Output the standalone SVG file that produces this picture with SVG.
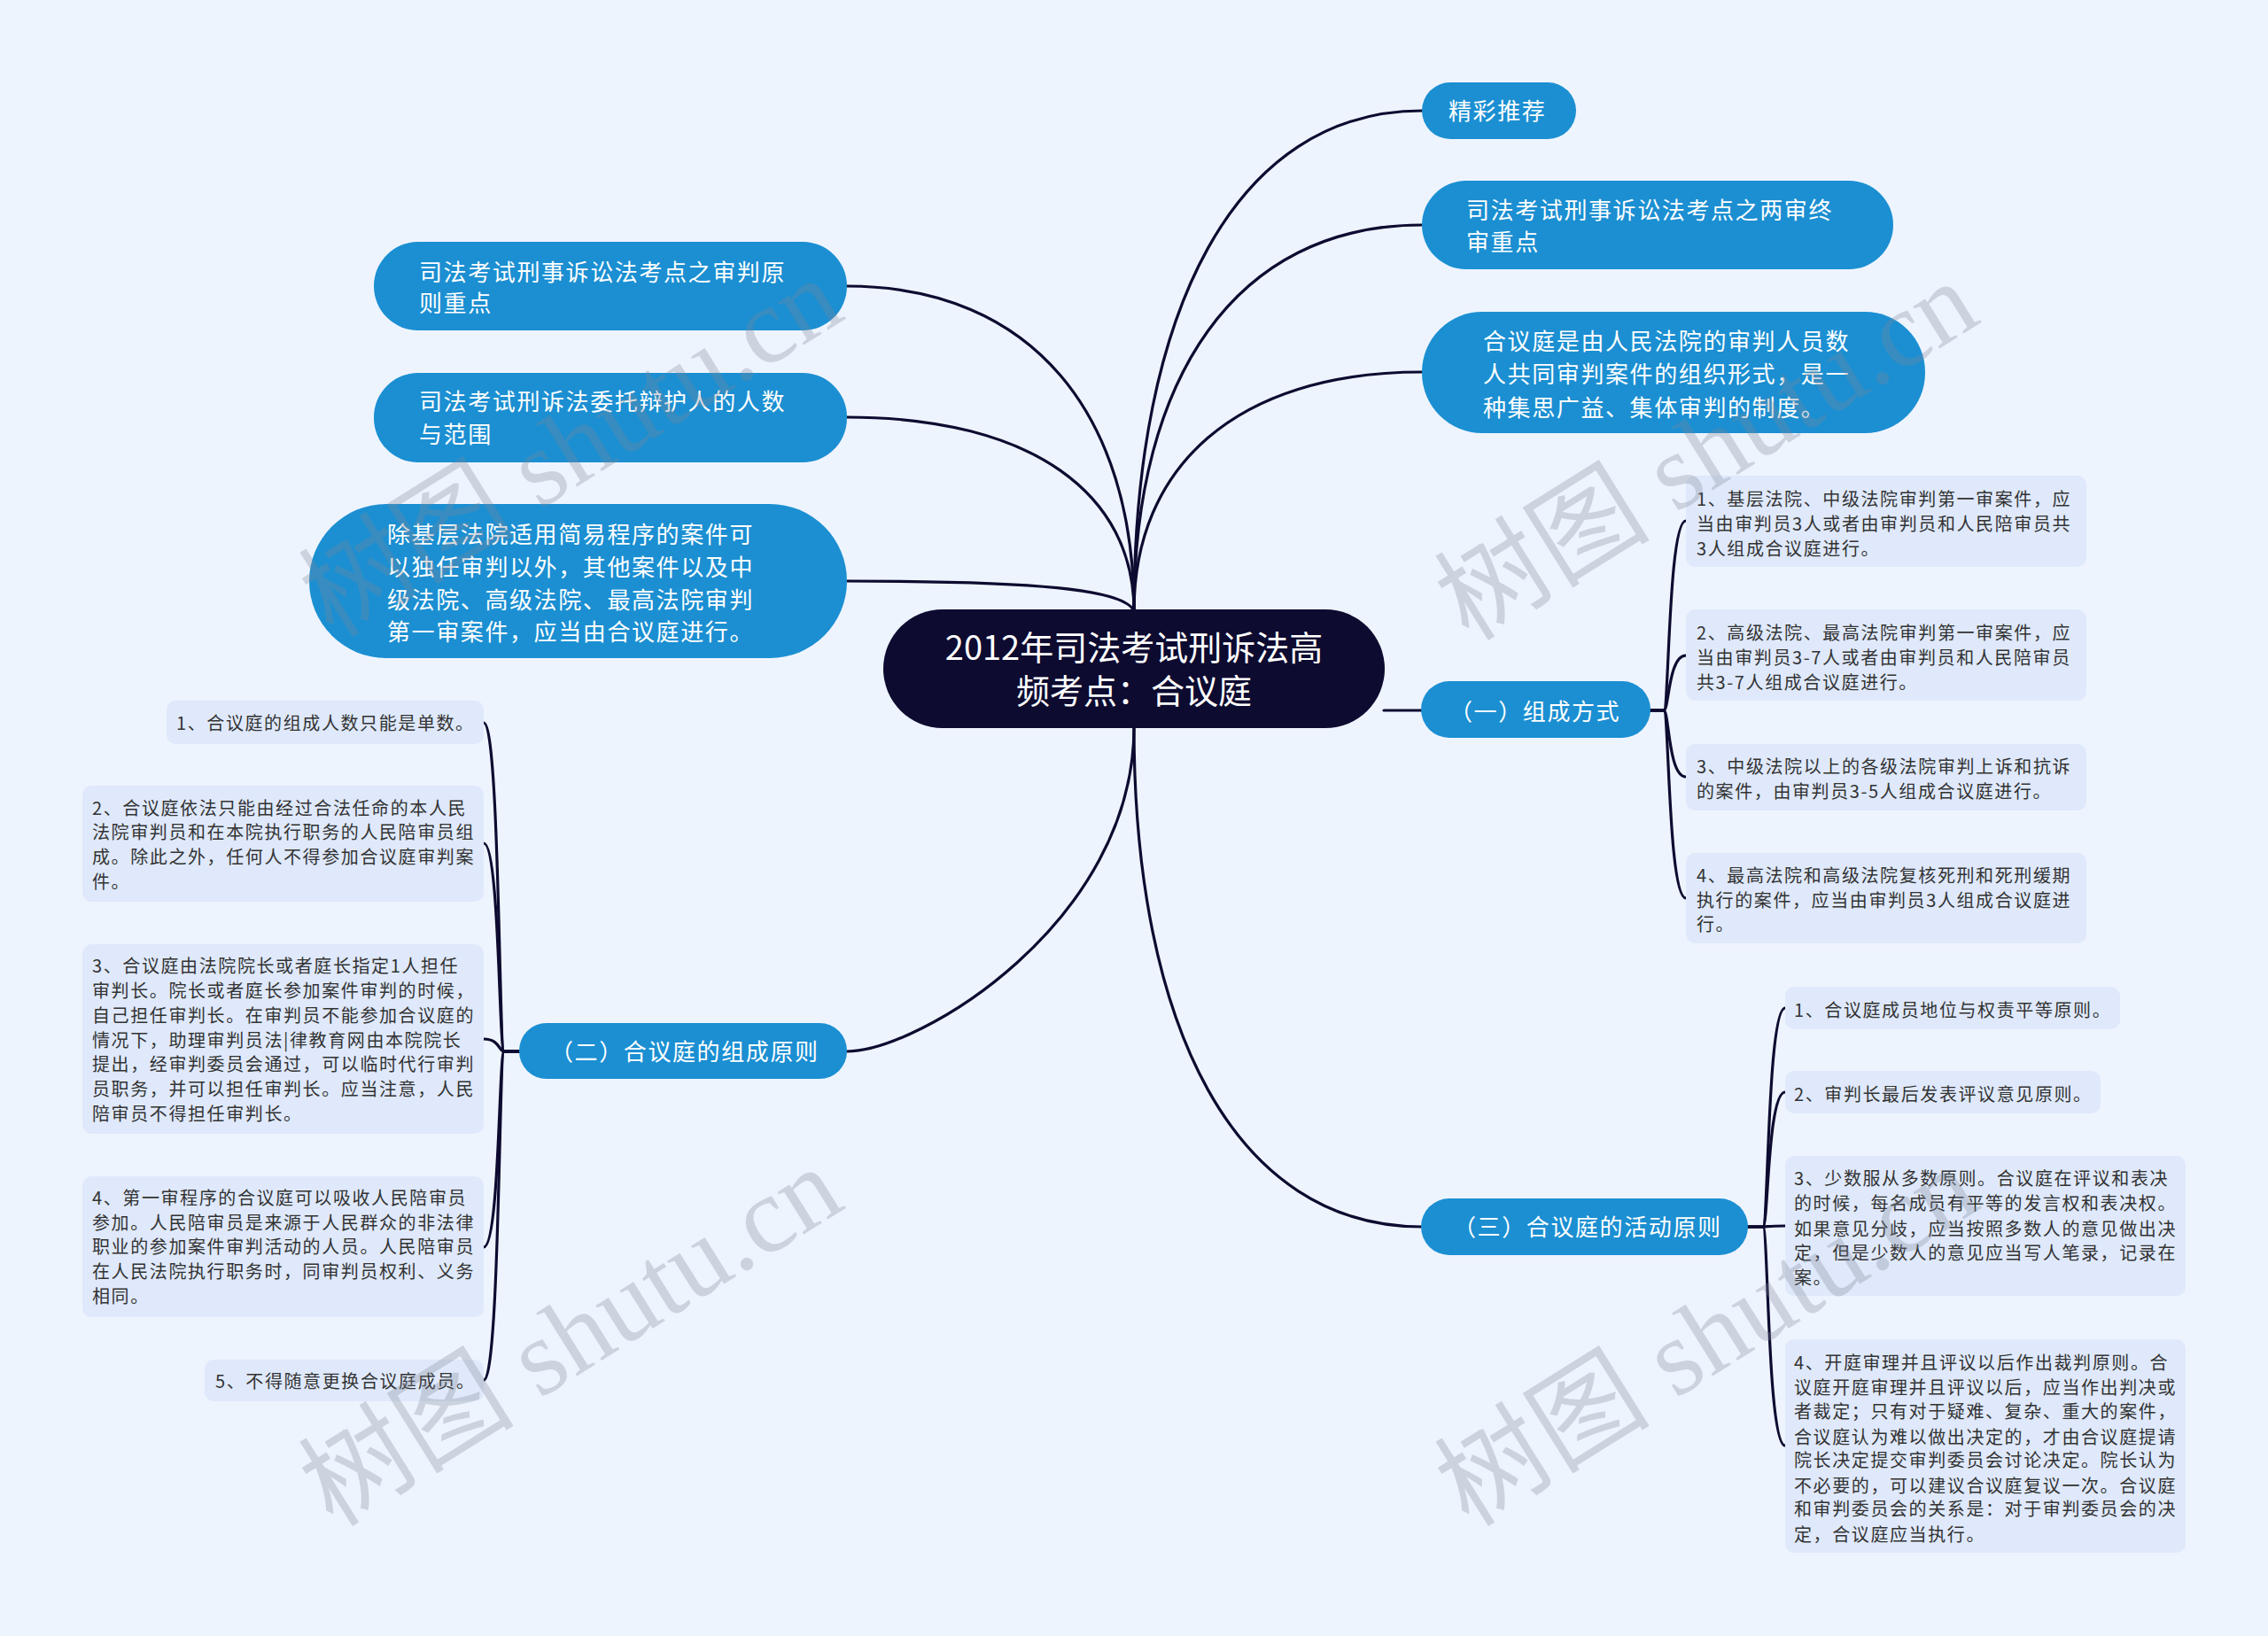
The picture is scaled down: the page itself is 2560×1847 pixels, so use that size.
<svg xmlns="http://www.w3.org/2000/svg" width="2560" height="1847" viewBox="0 0 2560 1847">
<style>
.bg{fill:#eef4fe}
.c{fill:none;stroke:#0d0b30;stroke-width:3.2;stroke-linecap:round}
.root{fill:#0d0b30}
.main{fill:#1b8fd2}
.leaf{fill:#dfe9fb}
.tr{font-family:"Noto Sans CJK SC","Noto Sans",sans-serif;font-size:38px;fill:#ffffff;text-anchor:middle}
.tm{font-family:"Noto Sans CJK SC","Noto Sans",sans-serif;font-size:26px;letter-spacing:1.6px;fill:#ffffff}
.tl{font-family:"Noto Sans CJK SC","Noto Sans",sans-serif;font-size:20px;letter-spacing:1.6px;fill:#333333}
.wm{font-family:"Liberation Serif","Noto Sans CJK SC",serif;font-size:122px;fill:#7f8796;opacity:0.3}
</style>
<rect class="bg" x="0" y="0" width="2560" height="1847"/>
<g id="connectors">
<path class="c" d="M1280 690 C1280 351 1394 125 1605 125"/>
<path class="c" d="M1280 690 C1280 428 1394 254 1605 254"/>
<path class="c" d="M1280 690 C1280 528 1394 420 1605 420"/>
<path class="c" d="M1562 802 L1605 802"/>
<path class="c" d="M1280 821 C1280 1160 1394 1385 1605 1385"/>
<path class="c" d="M1280 690 C1280 470 1167 323 956 323"/>
<path class="c" d="M1280 690 C1280 559 1167 471 956 471"/>
<path class="c" d="M1280 690 C1270 665 1167 656 956 656"/>
<path class="c" d="M1280 821 C1280 1041 1037 1187 956 1187"/>
<path class="c" d="M1863 802 L1878 802 C1884 802 1883 588 1903 588"/>
<path class="c" d="M1863 802 L1878 802 C1884 802 1883 740 1903 740"/>
<path class="c" d="M1863 802 L1878 802 C1884 802 1883 877 1903 877"/>
<path class="c" d="M1863 802 L1878 802 C1884 802 1883 1014 1903 1014"/>
<path class="c" d="M586 1187 L569 1187 C563 1187 564 816 546 816"/>
<path class="c" d="M586 1187 L569 1187 C563 1187 564 952 546 952"/>
<path class="c" d="M586 1187 L569 1187 C563 1187 564 1173 546 1173"/>
<path class="c" d="M586 1187 L569 1187 C563 1187 564 1408 546 1408"/>
<path class="c" d="M586 1187 L569 1187 C563 1187 564 1558 546 1558"/>
<path class="c" d="M1973 1385 L1990 1385 C1996 1385 1995 1138 2015 1138"/>
<path class="c" d="M1973 1385 L1990 1385 C1996 1385 1995 1233 2015 1233"/>
<path class="c" d="M1973 1385 L1990 1385 C1996 1385 1995 1384 2015 1384"/>
<path class="c" d="M1973 1385 L1990 1385 C1996 1385 1995 1632 2015 1632"/>
</g>
<g id="root">
<rect class="root" x="997" y="688" width="566" height="134" rx="67"/>
<text class="tr"><tspan x="1280" y="745">2012年司法考试刑诉法高</tspan><tspan x="1280" y="794">频考点：合议庭</tspan></text>
</g>
<g id="n-jingcai">
<rect class="main" x="1605" y="93" width="174" height="64" rx="32"/>
<text class="tm" x="1635" y="135">精彩推荐</text>
</g>
<g id="n-liangshen">
<rect class="main" x="1605" y="204" width="532" height="100" rx="50"/>
<text class="tm"><tspan x="1655" y="247">司法考试刑事诉讼法考点之两审终</tspan><tspan x="1655" y="283">审重点</tspan></text>
</g>
<g id="n-dingyi">
<rect class="main" x="1605" y="352" width="568" height="137" rx="68"/>
<text class="tm"><tspan x="1674" y="395">合议庭是由人民法院的审判人员数</tspan><tspan x="1674" y="432">人共同审判案件的组织形式，是一</tspan><tspan x="1674" y="470">种集思广益、集体审判的制度。</tspan></text>
</g>
<g id="n-shenpan">
<rect class="main" x="422" y="273" width="534" height="100" rx="50"/>
<text class="tm"><tspan x="473" y="317">司法考试刑事诉讼法考点之审判原</tspan><tspan x="473" y="352">则重点</tspan></text>
</g>
<g id="n-weituo">
<rect class="main" x="422" y="421" width="534" height="101" rx="50"/>
<text class="tm"><tspan x="473" y="463">司法考试刑诉法委托辩护人的人数</tspan><tspan x="473" y="500">与范围</tspan></text>
</g>
<g id="n-chujiceng">
<rect class="main" x="349" y="569" width="607" height="174" rx="87"/>
<text class="tm"><tspan x="437" y="613">除基层法院适用简易程序的案件可</tspan><tspan x="437" y="650">以独任审判以外，其他案件以及中</tspan><tspan x="437" y="687">级法院、高级法院、最高法院审判</tspan><tspan x="437" y="723">第一审案件，应当由合议庭进行。</tspan></text>
</g>
<g id="n-zucheng">
<rect class="main" x="1604" y="769" width="259" height="64" rx="32"/>
<text class="tm" x="1636" y="813">（一）组成方式</text>
</g>
<g id="n-yuanze">
<rect class="main" x="586" y="1155" width="370" height="63" rx="31"/>
<text class="tm" x="621" y="1197">（二）合议庭的组成原则</text>
</g>
<g id="n-huodong">
<rect class="main" x="1604" y="1353" width="369" height="64" rx="32"/>
<text class="tm" x="1640" y="1395">（三）合议庭的活动原则</text>
</g>
<g id="l1-1">
<rect class="leaf" x="1903" y="537" width="452" height="103" rx="10"/>
<text class="tl"><tspan x="1915" y="571">1、基层法院、中级法院审判第一审案件，应</tspan><tspan x="1915" y="599">当由审判员3人或者由审判员和人民陪审员共</tspan><tspan x="1915" y="627">3人组成合议庭进行。</tspan></text>
</g>
<g id="l1-2">
<rect class="leaf" x="1903" y="688" width="452" height="103" rx="10"/>
<text class="tl"><tspan x="1915" y="722">2、高级法院、最高法院审判第一审案件，应</tspan><tspan x="1915" y="750">当由审判员3-7人或者由审判员和人民陪审员</tspan><tspan x="1915" y="778">共3-7人组成合议庭进行。</tspan></text>
</g>
<g id="l1-3">
<rect class="leaf" x="1903" y="840" width="452" height="75" rx="10"/>
<text class="tl"><tspan x="1915" y="873">3、中级法院以上的各级法院审判上诉和抗诉</tspan><tspan x="1915" y="901">的案件，由审判员3-5人组成合议庭进行。</tspan></text>
</g>
<g id="l1-4">
<rect class="leaf" x="1903" y="963" width="452" height="102" rx="10"/>
<text class="tl"><tspan x="1915" y="996">4、最高法院和高级法院复核死刑和死刑缓期</tspan><tspan x="1915" y="1024">执行的案件，应当由审判员3人组成合议庭进</tspan><tspan x="1915" y="1051">行。</tspan></text>
</g>
<g id="l2-1">
<rect class="leaf" x="188" y="791" width="358" height="49" rx="10"/>
<text class="tl" x="199" y="824">1、合议庭的组成人数只能是单数。</text>
</g>
<g id="l2-2">
<rect class="leaf" x="93" y="887" width="453" height="131" rx="10"/>
<text class="tl"><tspan x="104" y="920">2、合议庭依法只能由经过合法任命的本人民</tspan><tspan x="104" y="947">法院审判员和在本院执行职务的人民陪审员组</tspan><tspan x="104" y="975">成。除此之外，任何人不得参加合议庭审判案</tspan><tspan x="104" y="1003">件。</tspan></text>
</g>
<g id="l2-3">
<rect class="leaf" x="93" y="1066" width="453" height="214" rx="10"/>
<text class="tl"><tspan x="104" y="1098">3、合议庭由法院院长或者庭长指定1人担任</tspan><tspan x="104" y="1126">审判长。院长或者庭长参加案件审判的时候，</tspan><tspan x="104" y="1154">自己担任审判长。在审判员不能参加合议庭的</tspan><tspan x="104" y="1182">情况下，助理审判员法|律教育网由本院院长</tspan><tspan x="104" y="1209">提出，经审判委员会通过，可以临时代行审判</tspan><tspan x="104" y="1237">员职务，并可以担任审判长。应当注意，人民</tspan><tspan x="104" y="1265">陪审员不得担任审判长。</tspan></text>
</g>
<g id="l2-4">
<rect class="leaf" x="93" y="1328" width="453" height="159" rx="10"/>
<text class="tl"><tspan x="104" y="1360">4、第一审程序的合议庭可以吸收人民陪审员</tspan><tspan x="104" y="1388">参加。人民陪审员是来源于人民群众的非法律</tspan><tspan x="104" y="1415">职业的参加案件审判活动的人员。人民陪审员</tspan><tspan x="104" y="1443">在人民法院执行职务时，同审判员权利、义务</tspan><tspan x="104" y="1471">相同。</tspan></text>
</g>
<g id="l2-5">
<rect class="leaf" x="231" y="1535" width="315" height="47" rx="10"/>
<text class="tl" x="243" y="1567">5、不得随意更换合议庭成员。</text>
</g>
<g id="l3-1">
<rect class="leaf" x="2015" y="1114" width="378" height="48" rx="10"/>
<text class="tl" x="2025" y="1148">1、合议庭成员地位与权责平等原则。</text>
</g>
<g id="l3-2">
<rect class="leaf" x="2015" y="1209" width="356" height="48" rx="10"/>
<text class="tl" x="2025" y="1243">2、审判长最后发表评议意见原则。</text>
</g>
<g id="l3-3">
<rect class="leaf" x="2015" y="1305" width="452" height="158" rx="10"/>
<text class="tl"><tspan x="2025" y="1338">3、少数服从多数原则。合议庭在评议和表决</tspan><tspan x="2025" y="1366">的时候，每名成员有平等的发言权和表决权。</tspan><tspan x="2025" y="1395">如果意见分歧，应当按照多数人的意见做出决</tspan><tspan x="2025" y="1422">定，但是少数人的意见应当写人笔录，记录在</tspan><tspan x="2025" y="1450">案。</tspan></text>
</g>
<g id="l3-4">
<rect class="leaf" x="2015" y="1512" width="452" height="241" rx="10"/>
<text class="tl"><tspan x="2025" y="1546">4、开庭审理并且评议以后作出裁判原则。合</tspan><tspan x="2025" y="1574">议庭开庭审理并且评议以后，应当作出判决或</tspan><tspan x="2025" y="1601">者裁定；只有对于疑难、复杂、重大的案件，</tspan><tspan x="2025" y="1630">合议庭认为难以做出决定的，才由合议庭提请</tspan><tspan x="2025" y="1656">院长决定提交审判委员会讨论决定。院长认为</tspan><tspan x="2025" y="1685">不必要的，可以建议合议庭复议一次。合议庭</tspan><tspan x="2025" y="1711">和审判委员会的关系是：对于审判委员会的决</tspan><tspan x="2025" y="1740">定，合议庭应当执行。</tspan></text>
</g>
<g id="watermarks">
<text class="wm" x="645" y="546" text-anchor="middle" transform="rotate(-32 645 506)">树图 shutu.cn</text>
<text class="wm" x="1927" y="550" text-anchor="middle" transform="rotate(-32 1927 510)">树图 shutu.cn</text>
<text class="wm" x="645" y="1550" text-anchor="middle" transform="rotate(-32 645 1510)">树图 shutu.cn</text>
<text class="wm" x="1927" y="1550" text-anchor="middle" transform="rotate(-32 1927 1510)">树图 shutu.cn</text>
</g>
</svg>
